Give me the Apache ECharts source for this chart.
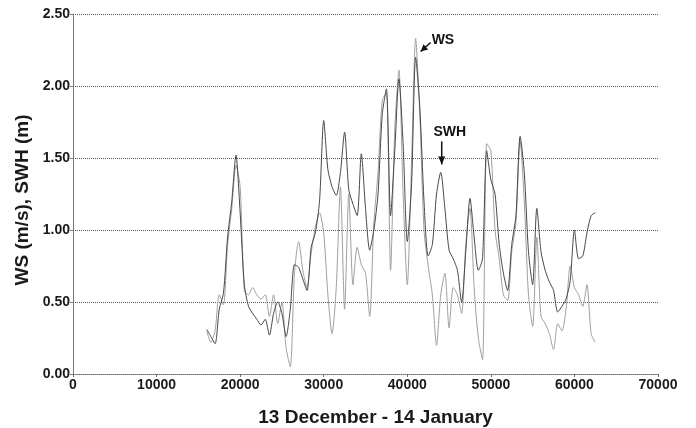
<!DOCTYPE html>
<html>
<head>
<meta charset="utf-8">
<style>
  html, body { margin: 0; padding: 0; background: #ffffff; }
  #chart { width: 696px; height: 428px; }
</style>
<script src="https://cdn.jsdelivr.net/npm/echarts@6/dist/echarts.min.js"></script>
</head>
<body>
<div id="chart"></div>
<script>
// Sample times (record index) shared by both series
const times = [
  16000, 16500, 17000, 17500, 18000, 18500, 19000, 19500, 20000, 20500,
  21000, 21500, 22000, 22500, 23000, 23500, 24000, 24500, 25000, 25500,
  26000, 26500, 27000, 27500, 28000, 28500, 29000, 29500, 30000, 30500,
  31000, 31500, 32000, 32500, 33000, 33500, 34000, 34500, 35000, 35500,
  36000, 36500, 37000, 37500, 38000, 38500, 39000, 39500, 40000, 40500,
  41000, 41500, 42000, 42500, 43000, 43500, 44000, 44500, 45000, 45500,
  46000, 46500, 47000, 47500, 48000, 48500, 49000, 49500, 50000, 50500,
  51000, 51500, 52000, 52500, 53000, 53500, 54000, 54500, 55000, 55500,
  56000, 56500, 57000, 57500, 58000, 58500, 59000, 59500, 60000, 60500,
  61000, 61500, 62000, 62500
];

// Wind speed (m/s)
const wsValues = [
  0.30, 0.22, 0.30, 0.55, 0.48, 0.90, 1.15, 1.45, 1.30, 0.58,
  0.55, 0.60, 0.55, 0.52, 0.55, 0.40, 0.55, 0.35, 0.50, 0.18,
  0.05, 0.70, 0.92, 0.72, 0.60, 0.84, 1.02, 1.12, 0.98, 0.55,
  0.28, 0.60, 1.30, 0.45, 1.25, 0.62, 0.88, 0.76, 0.70, 0.40,
  1.05, 1.40, 1.90, 1.95, 0.72, 1.70, 2.11, 1.25, 0.62, 1.45,
  2.33, 1.80, 1.00, 0.75, 0.55, 0.20, 0.55, 0.70, 0.32, 0.60,
  0.55, 0.42, 0.90, 1.15, 0.60, 0.25, 0.10, 1.60, 1.55, 1.00,
  0.80, 0.55, 0.51, 0.85, 1.05, 1.62, 1.20, 0.55, 0.33, 0.95,
  0.40, 0.35, 0.28, 0.17, 0.35, 0.30, 0.45, 0.75, 0.60, 0.55,
  0.47, 0.62, 0.28, 0.22
];

// Significant wave height (m)
const swhValues = [
  0.31, 0.26, 0.21, 0.45, 0.56, 0.95, 1.20, 1.52, 1.12, 0.62,
  0.47, 0.42, 0.38, 0.34, 0.38, 0.27, 0.42, 0.50, 0.42, 0.26,
  0.45, 0.76, 0.74, 0.66, 0.58, 0.88, 0.98, 1.20, 1.76, 1.42,
  1.30, 1.24, 1.40, 1.68, 1.28, 1.18, 1.10, 1.53, 1.15, 0.86,
  1.00, 1.25, 1.80, 1.98, 1.10, 1.55, 2.05, 1.60, 0.92, 1.30,
  2.20, 1.85, 1.20, 0.82, 0.90, 1.25, 1.40, 1.15, 0.86, 0.80,
  0.72, 0.50, 0.85, 1.22, 0.95, 0.72, 0.80, 1.55, 1.35, 1.25,
  0.90, 0.70, 0.58, 0.90, 1.10, 1.65, 1.40, 0.85, 0.62, 1.15,
  0.85, 0.72, 0.64, 0.58, 0.43, 0.47, 0.52, 0.65, 1.00, 0.80,
  0.82, 0.98, 1.10, 1.12
];

const FONT = 'Arial, "Liberation Sans", sans-serif';

const chart = echarts.init(document.getElementById('chart'), null, { renderer: 'canvas' });

function pairs(vals) {
  return times.map((t, i) => [t, vals[i]]);
}

// locate the peak of a series so the callout arrow sits on it
function peakOf(vals) {
  let k = 0;
  vals.forEach((v, i) => { if (v > vals[k]) k = i; });
  return [times[k], vals[k]];
}

chart.setOption({
  animation: false,
  backgroundColor: '#ffffff',
  grid: {
    left: 73, right: 38, top: 14, bottom: 54,
    containLabel: false,
    outerBoundsMode: 'none'
  },
  xAxis: {
    type: 'value',
    min: 0, max: 70000, interval: 10000,
    name: '13 December - 14 January',
    nameLocation: 'middle',
    nameGap: 34,
    nameTextStyle: {
      fontFamily: FONT, fontSize: 19, fontWeight: 'bold', color: '#1a1a1a',
      padding: [0, 0, 0, 20]
    },
    axisLine: { show: true, lineStyle: { color: '#6a6a6a', type: 'dotted', width: 1 } },
    axisTick: { show: true, length: 3, lineStyle: { color: '#6a6a6a' } },
    axisLabel: {
      fontFamily: FONT, fontSize: 14, fontWeight: 'bold', color: '#1a1a1a', margin: 4,
      formatter: v => String(v)
    },
    splitLine: { show: false }
  },
  yAxis: {
    type: 'value',
    min: 0, max: 2.5, interval: 0.5,
    name: 'WS (m/s), SWH (m)',
    nameLocation: 'middle',
    nameGap: 22,
    nameTextStyle: {
      fontFamily: FONT, fontSize: 19, fontWeight: 'bold', color: '#1a1a1a',
      padding: [0, 12, 0, 0]
    },
    axisLine: { show: true, lineStyle: { color: '#777777', width: 1 } },
    axisTick: { show: true, length: 3, lineStyle: { color: '#777777' } },
    axisLabel: {
      fontFamily: FONT, fontSize: 14, fontWeight: 'bold', color: '#1a1a1a', margin: 3,
      formatter: v => v.toFixed(2)
    },
    splitLine: { show: true, lineStyle: { color: '#5a5a5a', type: 'dotted', width: 1 } }
  },
  series: [
    {
      name: 'WS',
      type: 'line',
      data: pairs(wsValues),
      showSymbol: false,
      smooth: 0.25,
      lineStyle: { color: '#a0a0a0', width: 1 },
      z: 2
    },
    {
      name: 'SWH',
      type: 'line',
      data: pairs(swhValues),
      showSymbol: false,
      smooth: 0.25,
      lineStyle: { color: '#484848', width: 1 },
      z: 3
    }
  ]
});

// Callout labels with arrows
const wsPk = chart.convertToPixel({ gridIndex: 0 }, peakOf(wsValues));
const swhPk = chart.convertToPixel({ gridIndex: 0 }, [44000, 1.40]);

const wsTail = [wsPk[0] + 15, wsPk[1] + 4];
const wsTip = [wsPk[0] + 5, wsPk[1] + 13];
const swhTail = [swhPk[0] + 1, swhPk[1] - 31];
const swhTip = [swhPk[0] + 1, swhPk[1] - 8];

function head(tip, tail, len, half) {
  const dx = tip[0] - tail[0], dy = tip[1] - tail[1];
  const d = Math.hypot(dx, dy);
  const ux = dx / d, uy = dy / d;
  const bx = tip[0] - ux * len, by = tip[1] - uy * len;
  return [tip, [bx - uy * half, by + ux * half], [bx + uy * half, by - ux * half]];
}

chart.setOption({
  graphic: [
    { type: 'line', shape: { x1: wsTail[0], y1: wsTail[1], x2: wsTip[0], y2: wsTip[1] },
      style: { stroke: '#111', lineWidth: 1.5 }, z: 100 },
    { type: 'polygon', shape: { points: head(wsTip, wsTail, 7, 3.5) },
      style: { fill: '#111' }, z: 100 },
    { type: 'text', x: wsTail[0] + 1, y: wsTail[1] - 2,
      style: { text: 'WS', font: 'bold 14px ' + FONT, fill: '#111',
               textAlign: 'left', textVerticalAlign: 'middle' }, z: 100 },
    { type: 'line', shape: { x1: swhTail[0], y1: swhTail[1], x2: swhTip[0], y2: swhTip[1] },
      style: { stroke: '#111', lineWidth: 1.5 }, z: 100 },
    { type: 'polygon', shape: { points: head(swhTip, swhTail, 8, 3.5) },
      style: { fill: '#111' }, z: 100 },
    { type: 'text', x: swhTail[0] + 8, y: swhTail[1] - 9,
      style: { text: 'SWH', font: 'bold 14px ' + FONT, fill: '#111',
               textAlign: 'center', textVerticalAlign: 'middle' }, z: 100 }
  ]
});
</script>
</body>
</html>
